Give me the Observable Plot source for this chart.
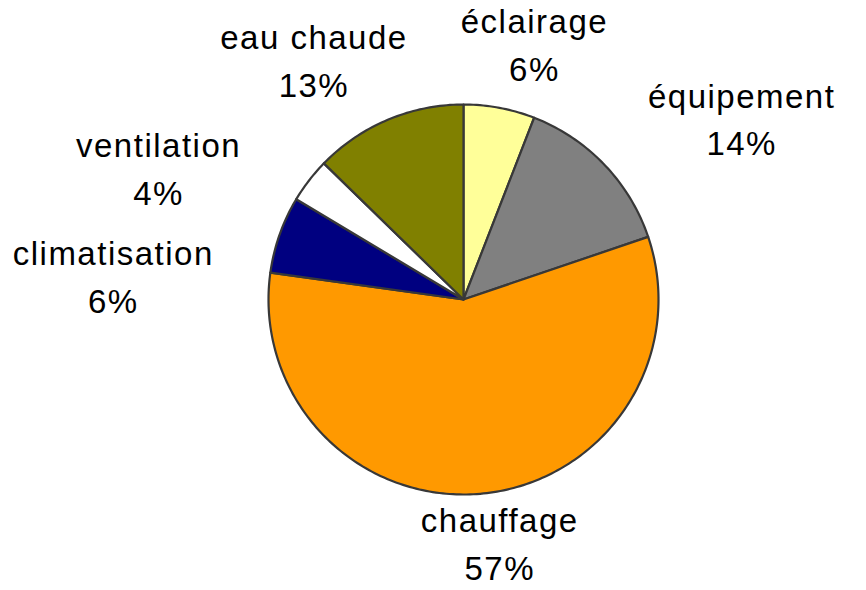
<!DOCTYPE html>
<html>
<head>
<meta charset="utf-8">
<script src="https://cdn.jsdelivr.net/npm/d3@7"></script>
<script src="https://cdn.jsdelivr.net/npm/@observablehq/plot@0.6"></script>
<style>
  html, body { margin: 0; padding: 0; background: #fff; }
  #chart { width: 866px; height: 590px; }
</style>
</head>
<body>
<div id="chart"></div>
<script>
// ---- data (clockwise from 12 o'clock) ----
const categories = ["éclairage", "équipement", "chauffage", "climatisation", "ventilation", "eau chaude"];
const values = [5.9, 13.9, 57.4, 6.4, 3.7, 12.7];
const percentLabels = ["6%", "14%", "57%", "6%", "4%", "13%"];
const colors = ["#FFFF99", "#808080", "#FF9900", "#000080", "#FFFFFF", "#808000"];

// ---- layout ----
const W = 866, H = 590;
const CX = 463, CY = 299, R = 195;       // pie center & radius (px)
const RX = 385, RY = 255;                // label ellipse (px)
const GAP = 108;                         // min vertical distance between overlapping labels (px)
const FONT = 33, CHAR_W = 15.5;          // font size, approx. char width (px)
const EDGE_X = 12, EDGE_BOTTOM = 43;     // keep label blocks inside the frame (px)

const total = d3.sum(values);
let acc = 0;
const slices = categories.map((name, i) => {
  const a0 = acc / total * 2 * Math.PI;
  acc += values[i];
  const a1 = acc / total * 2 * Math.PI;
  return {name, a0, a1, mid: (a0 + a1) / 2, label: percentLabels[i]};
});

// polygon outline for each slice (unit radius; angles clockwise from top)
const outline = [];
for (const s of slices) {
  outline.push({name: s.name, x: 0, y: 0});
  const n = Math.max(2, Math.ceil((s.a1 - s.a0) / (Math.PI / 180)));
  for (let k = 0; k <= n; k++) {
    const a = s.a0 + (s.a1 - s.a0) * k / n;
    outline.push({name: s.name, x: Math.sin(a), y: Math.cos(a)});
  }
}

// label positions on an ellipse around the pie, then pushed apart vertically when boxes collide
const labels = slices.map(s => ({
  text: s.name + "\n" + s.label,
  x: Math.sin(s.mid) * RX / R,
  y: Math.cos(s.mid) * RY / R,
  w: Math.max(s.name.length, s.label.length) * CHAR_W / R,
  side: Math.sin(s.mid) < 0 ? "left" : "right"
}));
for (const side of ["left", "right"]) {
  const group = labels.filter(d => d.side === side).sort((a, b) => b.y - a.y);
  for (let i = 1; i < group.length; i++) {
    const p = group[i - 1], q = group[i];
    const overlapX = Math.abs(p.x - q.x) < (p.w + q.w) / 2;
    if (overlapX) q.y = Math.min(q.y, p.y - GAP / R);
  }
}
// keep inside the frame
const xMin = -CX / R, xMax = (W - CX) / R, yMin = -(H - CY) / R;
for (const d of labels) {
  d.x = Math.max(xMin + d.w / 2 + EDGE_X / R, Math.min(xMax - d.w / 2 - EDGE_X / R, d.x));
  d.y = Math.max(yMin + EDGE_BOTTOM / R, d.y);
}

const chart = Plot.plot({
  width: W,
  height: H,
  margin: 0,
  style: {fontFamily: "'Liberation Sans', Arial, sans-serif", letterSpacing: "1.5px", background: "#fff"},
  x: {domain: [xMin, xMax], axis: null},
  y: {domain: [yMin, CY / R], axis: null},
  color: {domain: categories, range: colors},
  marks: [
    Plot.line(outline, {
      x: "x", y: "y", z: "name", fill: "name",
      stroke: "#383838", strokeWidth: 2.2, curve: "linear-closed", strokeLinejoin: "round"
    }),
    Plot.text(labels, {
      x: "x", y: "y", text: "text", dy: -7,
      fontSize: FONT, lineHeight: 1.45, fill: "#000", lineAnchor: "middle", textAnchor: "middle"
    })
  ]
});
document.getElementById("chart").appendChild(chart);
</script>
</body>
</html>
